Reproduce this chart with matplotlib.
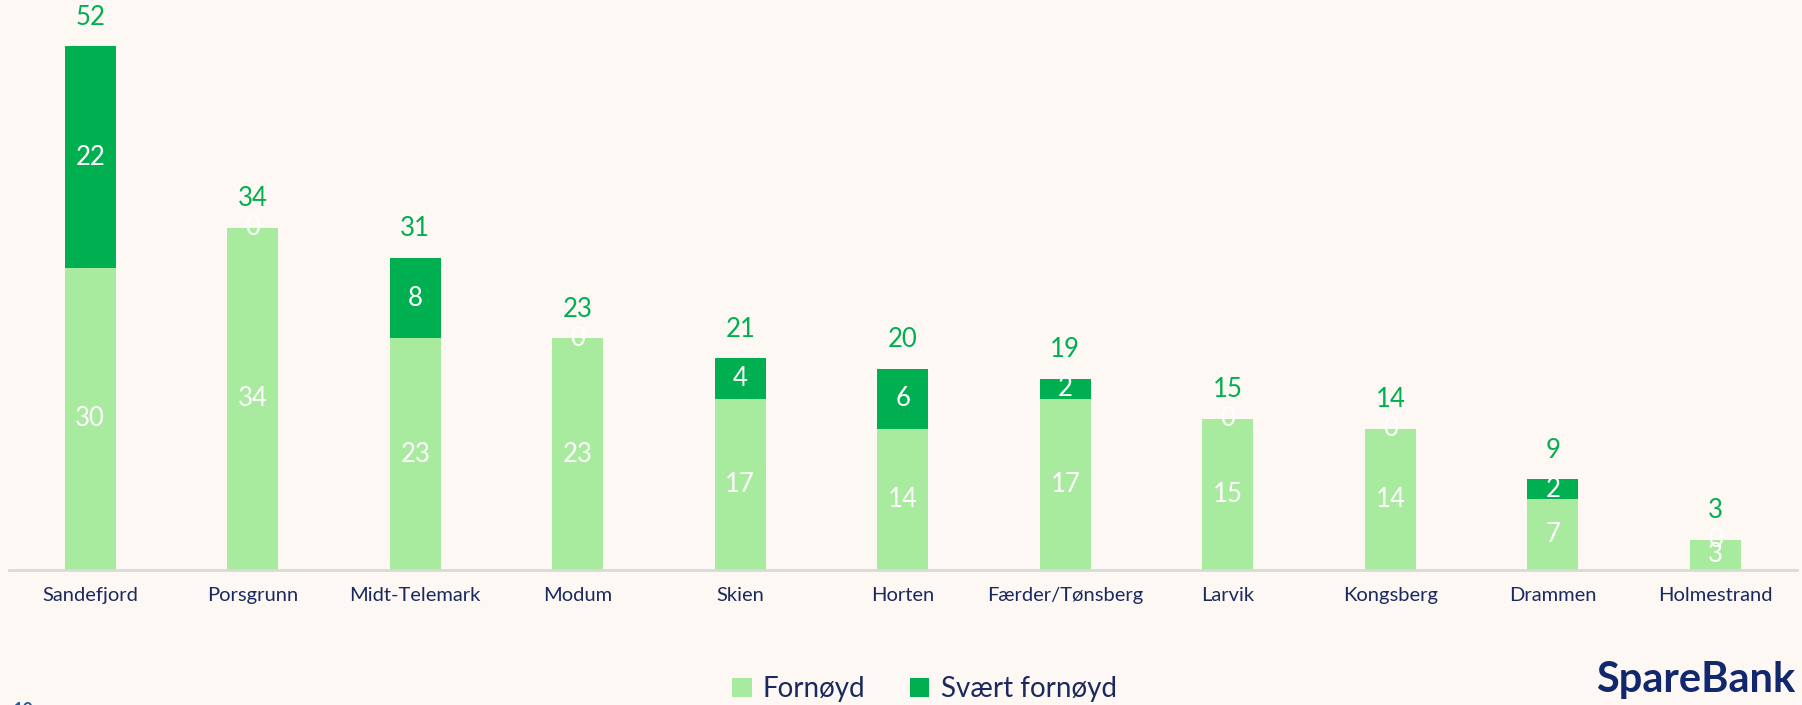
import matplotlib.pyplot as plt
import numpy as np

# data
kommuner = ["Sandefjord", "Porsgrunn", "Midt-Telemark", "Modum", "Skien", "Horten",
            "Færder/Tønsberg", "Larvik", "Kongsberg", "Drammen", "Holmestrand"]
fornoyd = [30, 34, 23, 23, 17, 14, 17, 15, 14, 7, 3]
svaert_fornoyd = [22, 0, 8, 0, 4, 6, 2, 0, 0, 2, 0]
totalt = [52, 34, 31, 23, 21, 20, 19, 15, 14, 9, 3]

bg = "#fdf8f4"
light_green = "#a9eb9e"
dark_green = "#00b050"
navy = "#1b2a5e"
font = ["Lato", "DejaVu Sans"]

plt.rcParams['font.family'] = font

fig = plt.figure(figsize=(18.02, 7.05), dpi=100, facecolor=bg)
ax = fig.add_axes([0.005, 0.1915, 0.992, 0.80])
ax.set_facecolor(bg)

x = np.arange(len(kommuner))
w = 0.314
b1 = ax.bar(x, fornoyd, w, color=light_green, label="Fornøyd", zorder=2)
b2 = ax.bar(x, svaert_fornoyd, w, bottom=fornoyd, color=dark_green,
            label="Svært fornøyd", zorder=2)

# white labels in the middle of each segment
for i in range(len(kommuner)):
    ax.text(x[i], fornoyd[i] / 2, str(fornoyd[i]), ha="center", va="center",
            color="white", fontsize=18.5, zorder=3)
    ax.text(x[i], fornoyd[i] + svaert_fornoyd[i] / 2, str(svaert_fornoyd[i]),
            ha="center", va="center", color="white", fontsize=18.5, zorder=3)
    # total on top
    ax.annotate(str(totalt[i]), (x[i], totalt[i]), xytext=(0, 21),
                textcoords="offset points", ha="center", va="center",
                color=dark_green, fontsize=18.5)

ax.set_xlim(-0.5, 10.5)
ax.set_ylim(0, 56)
ax.set_xticks(x)
ax.set_xticklabels(kommuner, fontsize=14.5, color=navy)
ax.tick_params(axis="x", length=0, pad=12)
ax.set_yticks([])
for side in ["top", "right", "left"]:
    ax.spines[side].set_visible(False)
ax.spines["bottom"].set_color("#d9d9d9")
ax.spines["bottom"].set_linewidth(2)

fig.legend(handles=[b1, b2], loc="center", bbox_to_anchor=(0.513, 0.022), ncol=2,
           frameon=False, fontsize=20, labelcolor=navy, handlelength=0.7,
           handleheight=0.7, handletextpad=0.4, columnspacing=1.6)

# logo and page number, cut off at the bottom like the slide
fig.text(0.9965, 0.008, "SpareBank", ha="right", va="bottom", fontsize=30,
         fontweight="bold", color="#12286e")
fig.text(0.9965, -0.012, "SØRØST-NORGE", ha="right", va="center", fontsize=14,
         fontweight="bold", color="#12286e")
fig.text(0.007, -0.008, "10", ha="left", va="center", fontsize=13,
         fontweight="bold", color="#1f5fa8")

fig.savefig("out.png", dpi=100, facecolor=bg)
